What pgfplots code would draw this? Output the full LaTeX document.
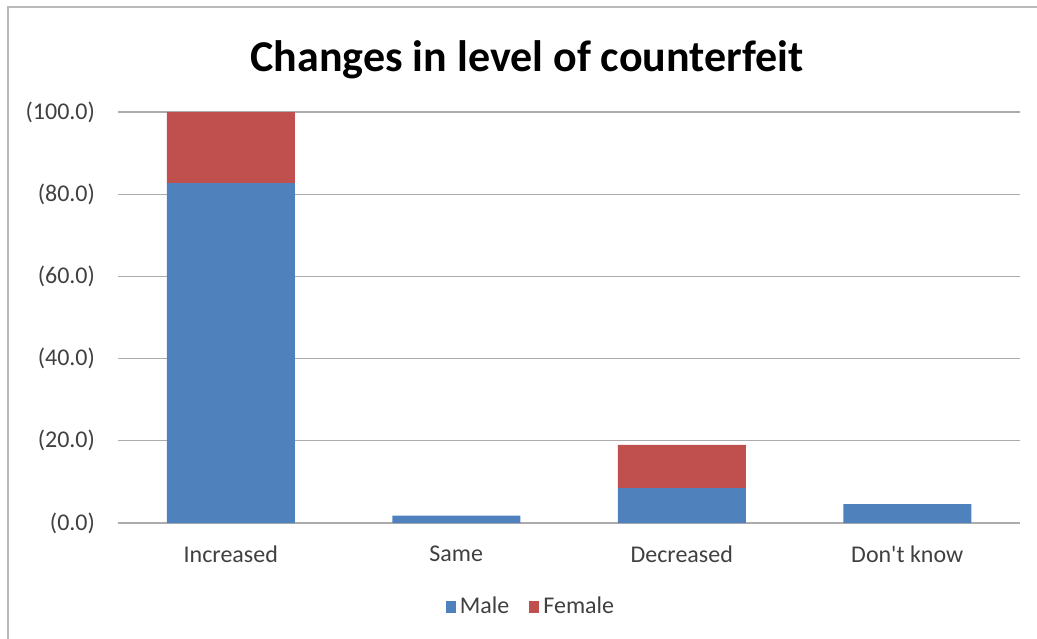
\documentclass[border=0pt]{standalone}
\usepackage{pgfplots}
\pgfplotsset{compat=1.18}
\usepackage{fontspec}
\setmainfont{Carlito}[Ligatures=TeXOff]
\definecolor{male}{HTML}{4F81BD}
\definecolor{female}{HTML}{C0504D}
\definecolor{txt}{HTML}{404040}
\begin{document}
\begin{tikzpicture}
\path[use as bounding box] (0,0) rectangle (518.5pt,319pt);
\draw[gray!55, line width=1.2pt] (4pt,-5pt) -- (4pt,315.5pt) -- (525pt,315.5pt);
\node[font=\fontsize{22}{26}\selectfont\bfseries] at (263.5pt,289pt) {Changes in level of counterfeit};
\begin{axis}[
  at={(59pt,57.5pt)}, anchor=south west,
  scale only axis, width=451pt, height=205.5pt,
  ybar stacked, bar width=64pt,
  xmin=-0.5, xmax=3.5, ymin=0, ymax=100,
  xtick={0,1,2,3},
  xticklabels={Increased,Same,Decreased,Don't know},
  ytick={0,20,40,60,80,100},
  yticklabels={(0.0),(20.0),(40.0),(60.0),(80.0),(100.0)},
  major tick length=0pt,
  axis line style={draw=none},
  ymajorgrids, grid style={gray!65, line width=0.6pt},
  ticklabel style={font=\fontsize{12}{14}\selectfont, text=txt},
  yticklabel style={xshift=-8pt},
  xticklabel style={yshift=-8pt},
  legend style={at={(0.459,-0.204)}, anchor=center, draw=none, legend columns=2,
    font=\fontsize{12}{14}\selectfont, text=txt,
    /tikz/every even column/.append style={column sep=8pt}},
  legend image code/.code={\fill[#1] (1pt,-3pt) rectangle (6pt,3pt);},
]
\addplot[fill=male, draw=none] coordinates {(0,82.7) (1,1.8) (2,8.5) (3,4.6)};
\addplot[fill=female, draw=none] coordinates {(0,17.3) (1,0) (2,10.5) (3,0)};
\legend{Male,Female}
\end{axis}
\end{tikzpicture}
\end{document}
